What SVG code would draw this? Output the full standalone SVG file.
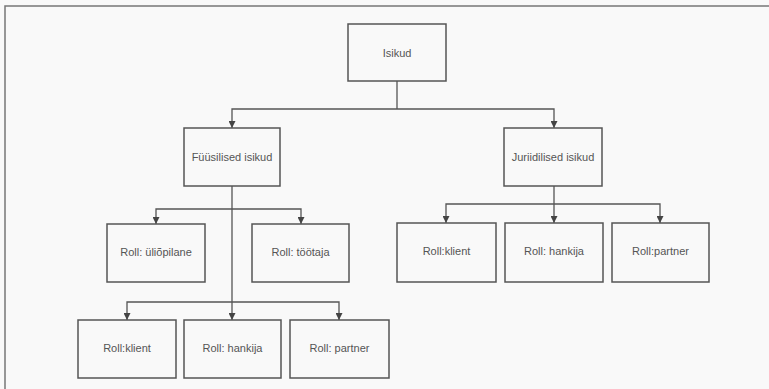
<svg xmlns="http://www.w3.org/2000/svg" width="769" height="389" viewBox="0 0 769 389">
<defs>
<style>
.box{fill:none;stroke:#555;stroke-width:1.5}
.lbl{font-family:"Liberation Sans",Arial,sans-serif;font-size:11px;fill:#555;text-anchor:middle;dominant-baseline:central}
.ln{fill:none;stroke:#555;stroke-width:1.3}
.frame{fill:none;stroke:#777;stroke-width:1.5}
</style>
<marker id="arr" viewBox="0 0 8 8" refX="8" refY="4" markerWidth="7" markerHeight="7" markerUnits="userSpaceOnUse" orient="auto">
<path d="M0,0 L8,4 L0,8 Z" fill="#444"/>
</marker>
</defs>
<rect x="0" y="0" width="769" height="389" fill="#f9f9f9"/>
<path class="frame" d="M5,389 L5,6 L769,6"/>
<g id="connectors">
<path class="ln" d="M397,81 V109"/>
<path class="ln" d="M397,109 H232 V128" marker-end="url(#arr)"/>
<path class="ln" d="M397,109 H554 V128" marker-end="url(#arr)"/>
<path class="ln" d="M232,186 V320" marker-end="url(#arr)"/>
<path class="ln" d="M232,209 H156 V224" marker-end="url(#arr)"/>
<path class="ln" d="M232,209 H301 V224" marker-end="url(#arr)"/>
<path class="ln" d="M232,302 H127 V320" marker-end="url(#arr)"/>
<path class="ln" d="M232,302 H339 V320" marker-end="url(#arr)"/>
<path class="ln" d="M554,186 V223" marker-end="url(#arr)"/>
<path class="ln" d="M554,204 H446 V223" marker-end="url(#arr)"/>
<path class="ln" d="M554,204 H660 V223" marker-end="url(#arr)"/>
</g>
<g id="isikud"><rect class="box" x="348" y="24" width="98" height="57"/><text class="lbl" x="397" y="52.5">Isikud</text></g>
<g id="fyysilised"><rect class="box" x="184" y="128" width="96" height="58"/><text class="lbl" x="232" y="157">Füüsilised isikud</text></g>
<g id="juriidilised"><rect class="box" x="504" y="128" width="98" height="58"/><text class="lbl" x="553" y="157">Juriidilised isikud</text></g>
<g id="f-yliopilane"><rect class="box" x="107" y="224" width="98" height="58"/><text class="lbl" x="156" y="252">Roll: üliõpilane</text></g>
<g id="f-tootaja"><rect class="box" x="252" y="224" width="97" height="58"/><text class="lbl" x="300.5" y="252">Roll: töötaja</text></g>
<g id="j-klient"><rect class="box" x="397" y="223" width="99" height="59"/><text class="lbl" x="446.5" y="251">Roll:klient</text></g>
<g id="j-hankija"><rect class="box" x="505" y="223" width="98" height="59"/><text class="lbl" x="554" y="251">Roll: hankija</text></g>
<g id="j-partner"><rect class="box" x="612" y="223" width="97" height="59"/><text class="lbl" x="660.5" y="251">Roll:partner</text></g>
<g id="f-klient"><rect class="box" x="78" y="320" width="98" height="58"/><text class="lbl" x="127" y="348">Roll:klient</text></g>
<g id="f-hankija"><rect class="box" x="184" y="320" width="97" height="58"/><text class="lbl" x="232.5" y="348">Roll: hankija</text></g>
<g id="f-partner"><rect class="box" x="290" y="320" width="99" height="58"/><text class="lbl" x="339.5" y="348">Roll: partner</text></g>
</svg>
